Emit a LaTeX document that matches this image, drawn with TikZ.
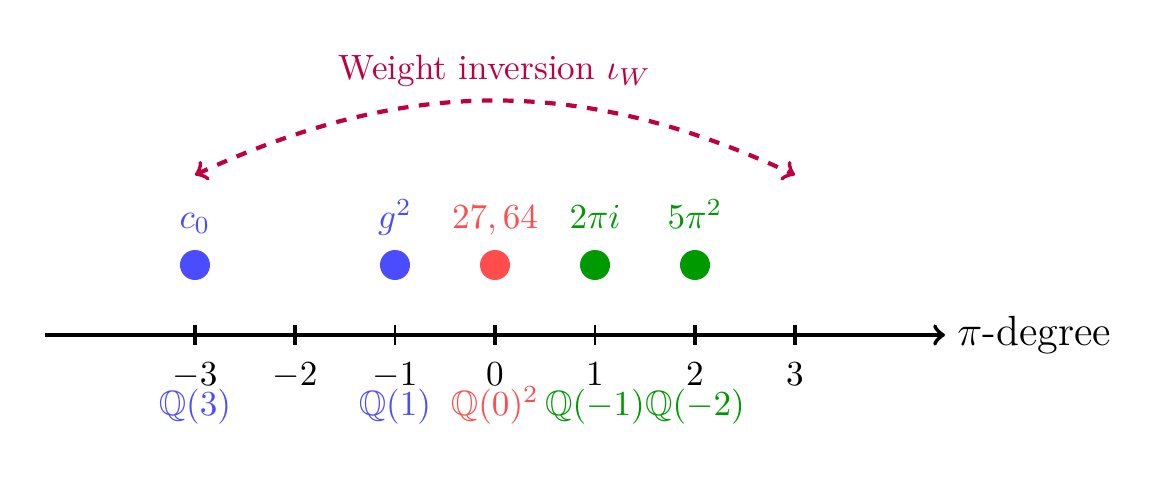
\documentclass[tikz,border=0pt]{standalone}
\usepackage{amsmath}
\usepackage{amssymb}
\usepackage{tikz}
\usetikzlibrary{positioning,calc}
\colorlet{wpos}{blue!70}
\colorlet{wzero}{red!70}
\colorlet{wneg}{green!60!black}
\tikzset{
dot/.style = {circle, minimum size=0.3cm, inner sep=0pt},
toplbl/.style = {anchor=base},
ticklbl/.style = {anchor=base},
qlbl/.style = {anchor=base},
tmp/.style = {coordinate}
}

\begin{document}
\begin{tikzpicture}[auto]
	\useasboundingbox (-4.95,-1.44) rectangle (6.77,3.35);
	% axis
	\node[tmp] (xstart) at (-4.5,0) {};
	\node[tmp] (xend) at (4.5,0) {};
	\node[right=0pt of xend, font=\large] (xlabel) {$\pi$-degree};
	\draw[->,very thick] (xstart) -- (xend);
	\draw[very thick] (-3,0.1) -- (-3,-0.1);
	\draw[very thick] (-2,0.1) -- (-2,-0.1);
	\draw[thin] (-1,0.1) -- (-1,-0.1);
	\draw[very thick] (0,0.1) -- (0,-0.1);
	\draw[thin] (1,0.1) -- (1,-0.1);
	\draw[very thick] (2,0.1) -- (2,-0.1);
	\draw[very thick] (3,0.1) -- (3,-0.1);
	\node[ticklbl] (deg1) at (-3,-0.5) {$-3$};
	\node[ticklbl] (deg2) at (-2,-0.5) {$-2$};
	\node[ticklbl] (deg3) at (-1,-0.5) {$-1$};
	\node[ticklbl] (deg4) at (0,-0.5) {$0$};
	\node[ticklbl] (deg5) at (1,-0.5) {$1$};
	\node[ticklbl] (deg6) at (2,-0.5) {$2$};
	\node[ticklbl] (deg7) at (3,-0.5) {$3$};
	% motives
	\node[qlbl, text=wpos] (q1) at (-3,-0.8) {$\mathbb{Q}(3)$};
	\node[qlbl, text=wpos] (q2) at (-1,-0.8) {$\mathbb{Q}(1)$};
	\node[qlbl, text=wzero] (q3) at (0,-0.8) {$\mathbb{Q}(0)^2$};
	\node[qlbl, text=wneg] (q4) at (1,-0.8) {$\mathbb{Q}(-1)$};
	\node[qlbl, text=wneg] (q5) at (2,-0.8) {$\mathbb{Q}(-2)$};
	% periods
	\node[dot, fill=wpos] (pt1) at (-3,0.7) {};
	\node[dot, fill=wpos] (pt2) at (-1,0.7) {};
	\node[dot, fill=wzero] (pt3) at (0,0.7) {};
	\node[dot, fill=wneg] (pt4) at (1,0.7) {};
	\node[dot, fill=wneg] (pt5) at (2,0.7) {};
	\node[toplbl, text=wpos] (lab1) at (-3,1.07) {$c_0$};
	\node[toplbl, text=wpos] (lab2) at (-1,1.07) {$g^2$};
	\node[toplbl, text=wzero] (lab3) at (0,1.07) {$27,64$};
	\node[toplbl, text=wneg] (lab4) at (1,1.07) {$2\pi i$};
	\node[toplbl, text=wneg] (lab5) at (2,1.07) {$5\pi^2$};
	% inversion
	\node[tmp] (invl) at (-3,1.6) {};
	\node[tmp] (invr) at (3,1.6) {};
	\draw[<->,very thick,dashed,purple] (invl) to[bend left=25] node[above, midway] (winv) {Weight inversion $\iota_W$} (invr);
\end{tikzpicture}
\end{document}
